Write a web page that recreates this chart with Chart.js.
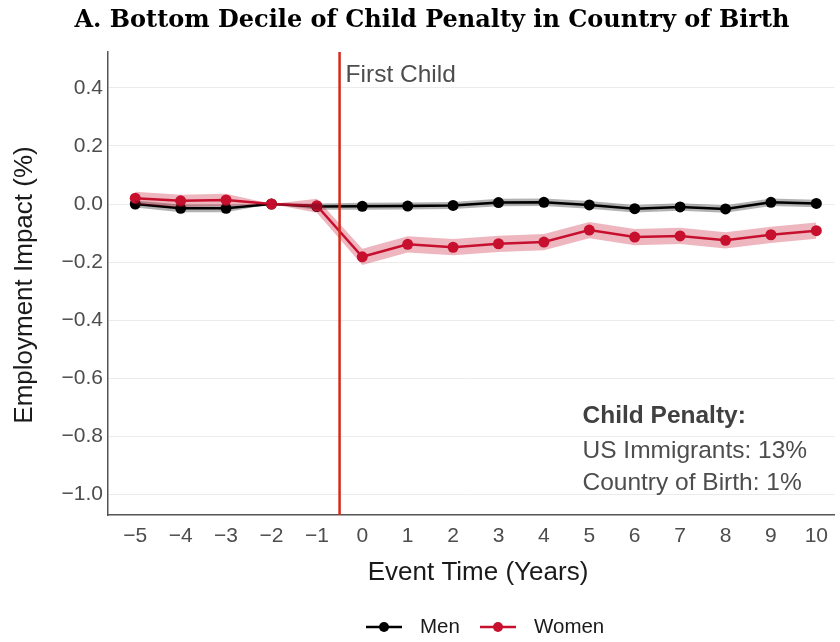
<!DOCTYPE html>
<html>
<head>
<meta charset="utf-8">
<script src="https://cdn.jsdelivr.net/npm/chart.js@4/dist/chart.umd.min.js"></script>
<style>
  html, body { margin: 0; padding: 0; background: #fff; }
  #wrap { width: 840px; height: 642px; }
</style>
</head>
<body>
<div id="wrap"><canvas id="chart" width="840" height="642"></canvas></div>
<script>
// Event-study estimates
const years = [-5, -4, -3, -2, -1, 0, 1, 2, 3, 4, 5, 6, 7, 8, 9, 10];
const menCoef = [0.000, -0.015, -0.015, 0, -0.009, -0.008, -0.007, -0.005, 0.005, 0.006, -0.003, -0.016, -0.010, -0.017, 0.006, 0.002];
const menLo = [-0.012, -0.028, -0.028, 0, -0.020, -0.020, -0.019, -0.017, -0.008, -0.007, -0.016, -0.029, -0.023, -0.030, -0.007, -0.011];
const menHi = [0.012, -0.002, -0.002, 0, 0.002, 0.004, 0.005, 0.007, 0.018, 0.019, 0.010, -0.003, 0.003, -0.004, 0.019, 0.015];
const womenCoef = [0.020, 0.011, 0.014, 0, -0.006, -0.182, -0.139, -0.149, -0.137, -0.131, -0.090, -0.114, -0.110, -0.125, -0.106, -0.092];
const womenLo = [-0.002, -0.010, -0.007, 0, -0.030, -0.210, -0.167, -0.177, -0.165, -0.159, -0.118, -0.142, -0.138, -0.153, -0.134, -0.120];
const womenHi = [0.042, 0.032, 0.035, 0, 0.018, -0.154, -0.111, -0.121, -0.109, -0.103, -0.062, -0.086, -0.082, -0.097, -0.078, -0.064];
const yTicks = [0.4, 0.2, 0.0, -0.2, -0.4, -0.6, -0.8, -1.0];

const titleText = 'A. Bottom Decile of Child Penalty in Country of Birth';
const penaltyLines = ['Child Penalty:', 'US Immigrants: 13%', 'Country of Birth: 1%'];

const MEN = '#000000';
const WOMEN = '#c8102e';
const SANS = "'Liberation Sans', Arial, sans-serif";

Chart.defaults.font.family = SANS;

const pts = arr => years.map((x, i) => ({ x: x, y: arr[i] }));

function bandSet(arr, color, fill) {
    return {
        data: pts(arr),
        borderWidth: 0,
        pointRadius: 0,
        backgroundColor: color,
        fill: fill,
        tension: 0
    };
}

function lineSet(label, arr, color) {
    return {
        label: label,
        data: pts(arr),
        borderColor: color,
        backgroundColor: color,
        borderWidth: 2.5,
        pointRadius: 5.5,
        pointBackgroundColor: color,
        pointBorderWidth: 0,
        fill: false,
        tension: 0
    };
}

// Draws title, axis titles, the first-child marker, annotation and legend
const decorations = {
    id: 'decorations',
    afterDatasetsDraw(chart) {
        const ctx = chart.ctx;
        const xs = chart.scales.x, ys = chart.scales.y;
        const area = chart.chartArea;
        ctx.save();

        // first child line
        const xv = xs.getPixelForValue(-0.5);
        ctx.strokeStyle = '#d42a1c';
        ctx.lineWidth = 2.5;
        ctx.beginPath();
        ctx.moveTo(xv, area.top);
        ctx.lineTo(xv, area.bottom);
        ctx.stroke();

        ctx.fillStyle = '#4d4d4d';
        ctx.font = '24.5px ' + SANS;
        ctx.textBaseline = 'middle';
        ctx.textAlign = 'left';
        ctx.fillText('First Child', xv + 6, area.top + 23);

        // child penalty box
        const ax = xs.getPixelForValue(4.85);
        ctx.font = 'bold 24.5px ' + SANS;
        ctx.fillStyle = '#404040';
        ctx.fillText(penaltyLines[0], ax, ys.getPixelForValue(-0.731));
        ctx.font = '24.5px ' + SANS;
        ctx.fillStyle = '#4d4d4d';
        ctx.fillText(penaltyLines[1], ax, ys.getPixelForValue(-0.852));
        ctx.fillText(penaltyLines[2], ax, ys.getPixelForValue(-0.962));

        // title
        ctx.fillStyle = '#000';
        ctx.font = 'bold 24px "DejaVu Serif", serif';
        ctx.textAlign = 'center';
        ctx.fillText(titleText, 432, 21);

        // axis titles
        ctx.fillStyle = '#1a1a1a';
        ctx.font = '26px ' + SANS;
        ctx.fillText('Event Time (Years)', 478, 573);
        ctx.save();
        ctx.translate(25, 285);
        ctx.rotate(-Math.PI / 2);
        ctx.fillText('Employment Impact (%)', 0, 0);
        ctx.restore();

        // legend
        const items = [
            { label: 'Men', color: MEN, x0: 366 },
            { label: 'Women', color: WOMEN, x0: 480 }
        ];
        const ly = 627;
        ctx.font = '20.5px ' + SANS;
        ctx.textAlign = 'left';
        items.forEach(it => {
            ctx.strokeStyle = it.color;
            ctx.fillStyle = it.color;
            ctx.lineWidth = 2.5;
            ctx.beginPath();
            ctx.moveTo(it.x0, ly);
            ctx.lineTo(it.x0 + 36, ly);
            ctx.stroke();
            ctx.beginPath();
            ctx.arc(it.x0 + 18, ly, 5, 0, Math.PI * 2);
            ctx.fill();
            ctx.fillStyle = '#1a1a1a';
            ctx.fillText(it.label, it.x0 + 54, ly);
        });

        ctx.restore();
    }
};

new Chart(document.getElementById('chart'), {
    type: 'line',
    data: {
        datasets: [
            bandSet(womenLo, 'rgba(200,16,46,0.3)', false),
            bandSet(womenHi, 'rgba(200,16,46,0.3)', '-1'),
            bandSet(menLo, 'rgba(0,0,0,0.3)', false),
            bandSet(menHi, 'rgba(0,0,0,0.3)', '-1'),
            lineSet('Women', womenCoef, WOMEN),
            lineSet('Men', menCoef, MEN)
        ]
    },
    options: {
        responsive: false,
        animation: false,
        layout: { padding: { top: 52, left: 0, right: 5, bottom: 0 } },
        plugins: {
            legend: { display: false },
            title: { display: false },
            tooltip: { enabled: false }
        },
        scales: {
            x: {
                type: 'linear',
                min: -5.6,
                max: 10.4,
                afterBuildTicks: scale => { scale.ticks = years.map(v => ({ value: v })); },
                afterFit: scale => { scale.height = 127; },
                grid: { color: 'rgba(0,0,0,0)', drawTicks: false },
                border: { display: true, color: '#555', width: 1.5 },
                ticks: {
                    padding: 9,
                    color: '#4d4d4d',
                    font: { size: 21 },
                    callback: v => String(v).replace('-', '\u2212')
                }
            },
            y: {
                min: -1.072,
                max: 0.524,
                afterBuildTicks: scale => { scale.ticks = yTicks.map(v => ({ value: v })); },
                afterFit: scale => { scale.width = 108; },
                grid: { color: '#ebebeb', lineWidth: 1, drawTicks: false },
                border: { display: true, color: '#555', width: 1.5 },
                ticks: {
                    padding: 5,
                    color: '#4d4d4d',
                    font: { size: 21 },
                    callback: v => v.toFixed(1).replace('-', '\u2212')
                }
            }
        }
    },
    plugins: [decorations]
});
</script>
</body>
</html>
